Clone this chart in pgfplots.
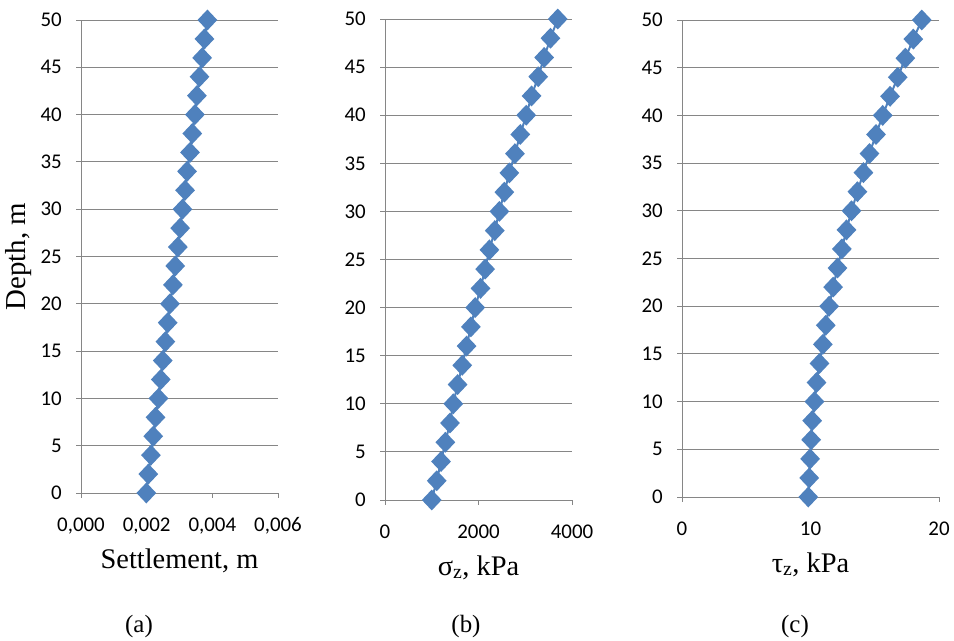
\documentclass[border=0pt]{standalone}
\usepackage{pgfplots}
\pgfplotsset{compat=1.18}
\usepackage{fontspec}
\setmainfont{Liberation Serif}
\newfontfamily\tickfont{Carlito}
\definecolor{excelblue}{HTML}{4F81BD}
\definecolor{gridgray}{HTML}{868686}

\pgfplotstableread{
depth  s
0   0.00199
2   0.00205
4   0.00213
6   0.00220
8   0.00227
10  0.00236
12  0.00243
14  0.00249
16  0.00257
18  0.00264
20  0.00271
22  0.00280
24  0.00287
26  0.00295
28  0.00302
30  0.00309
32  0.00317
34  0.00323
36  0.00332
38  0.00339
40  0.00347
42  0.00353
44  0.00361
46  0.00369
48  0.00376
50  0.00385
}\settlement

\pgfplotstableread{
depth  sig
0   1000
2   1106
4   1199
6   1291
8   1390
10  1461
12  1553
14  1652
16  1745
18  1837
20  1929
22  2043
24  2142
26  2234
28  2348
30  2447
32  2553
34  2660
36  2780
38  2894
40  3021
42  3135
44  3277
46  3404
48  3539
50  3695
}\sigmaz

\pgfplotstableread{
depth  tau
0   9.83
2   9.90
4   9.97
6   10.05
8   10.13
10  10.31
12  10.47
14  10.70
16  10.96
18  11.19
20  11.45
22  11.76
24  12.10
26  12.44
28  12.80
30  13.19
32  13.65
34  14.12
36  14.59
38  15.10
40  15.62
42  16.19
44  16.79
46  17.38
48  18.00
50  18.66
}\tauz

\pgfplotsset{
  depthplot/.style={
    scale only axis,
    anchor=south west,
    axis lines*=left,
    axis line style={gridgray, line width=0.8bp},
    ymin=0, ymax=50, ytick={0,5,...,50},
    ymajorgrids,
    grid style={gridgray, line width=0.8bp},
    tick style={gridgray, line width=0.8bp},
    tick align=outside,
    major tick length=5bp,
    ticklabel style={font=\tickfont\fontsize{21}{25}\selectfont, text=black},
    /pgf/number format/assume math mode=true,
    yticklabel style={anchor=east, inner sep=0pt, xshift=-14bp},
    xticklabel style={anchor=base, inner sep=0pt, yshift=-34bp},
    xlabel style={font=\fontsize{28.5}{33}\selectfont, at={(axis description cs:0.5,0)}, anchor=base, yshift=-75bp},
    clip=false,
  },
  depthline/.style={excelblue, line width=2bp, mark=diamond*, mark size=9bp,
    mark options={xscale=1.26, fill=excelblue, draw=excelblue, solid}},
}

\begin{document}
\begin{tikzpicture}
\useasboundingbox (0,0) rectangle (954bp,641bp);

\begin{axis}[depthplot,
  at={(81bp,148bp)}, width=197bp, height=473bp,
  xmin=0, xmax=0.006, xtick={0,0.002,0.004,0.006},
  scaled x ticks=false,
  xticklabel style={/pgf/number format/.cd, fixed, fixed zerofill, precision=3, use comma},
  xlabel={Settlement, m},
  ylabel={Depth, m},
  every axis y label/.style={font=\fontsize{29}{34}\selectfont,
    at={(axis description cs:-0.284,0.5)}, rotate=90, anchor=base},
]
\addplot[depthline] table[x=s, y=depth] {\settlement};
\end{axis}

\begin{axis}[depthplot,
  at={(385bp,141bp)}, width=187bp, height=481bp,
  xmin=0, xmax=4000, xtick={0,2000,4000},
  xticklabel style={/pgf/number format/1000 sep={}},
  xlabel={σ\textsubscript{z}, kPa},
]
\addplot[depthline] table[x=sig, y=depth] {\sigmaz};
\end{axis}

\begin{axis}[depthplot,
  at={(682bp,144bp)}, width=257bp, height=477bp,
  xmin=0, xmax=20, xtick={0,10,20},
  xlabel={τ\textsubscript{z}, kPa},
]
\addplot[depthline] table[x=tau, y=depth] {\tauz};
\end{axis}

\node[font=\fontsize{25}{30}\selectfont, anchor=base] at (139bp,9bp) {(a)};
\node[font=\fontsize{25}{30}\selectfont, anchor=base] at (466bp,9bp) {(b)};
\node[font=\fontsize{25}{30}\selectfont, anchor=base] at (795bp,9bp) {(c)};
\end{tikzpicture}
\end{document}
